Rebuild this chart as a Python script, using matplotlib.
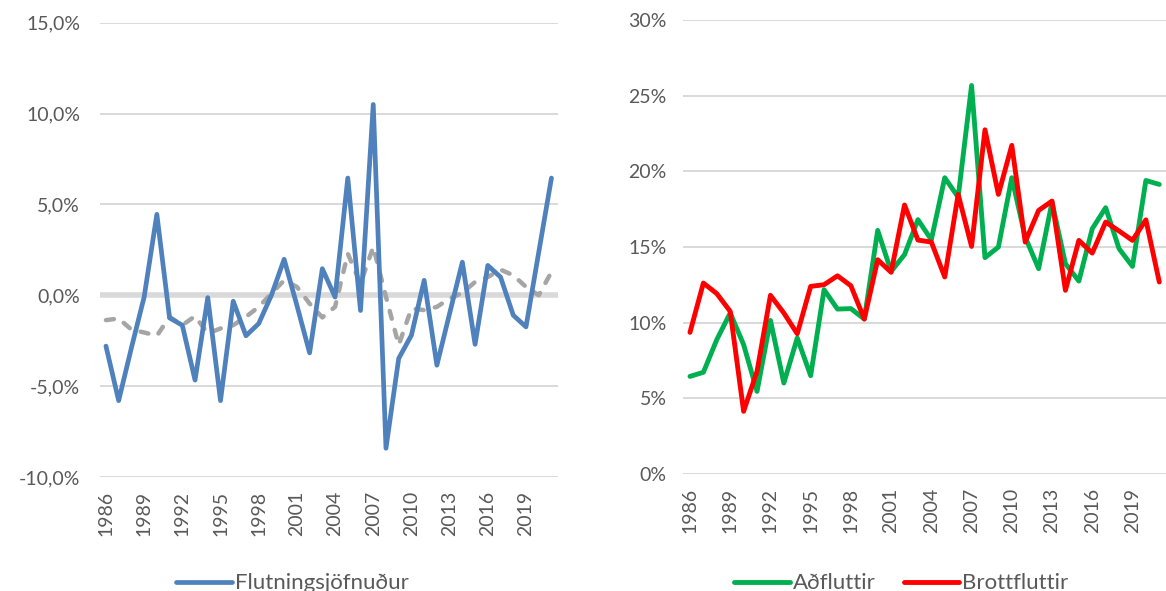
import numpy as np
import matplotlib.pyplot as plt
from matplotlib.ticker import FuncFormatter

plt.rcParams['font.family'] = ['Lato', 'DejaVu Sans']

years = list(range(1986, 2022))

# vinstri mynd: flutningsjöfnuður (%) og leitnilína
jofnudur = [-2.8, -5.8, -2.9, -0.1, 4.45, -1.25, -1.65, -4.67, -0.13, -5.8,
            -0.33, -2.23, -1.56, 0.0, 1.98, -0.55, -3.17, 1.46, -0.1, 6.45,
            -0.84, 10.5, -8.42, -3.48, -2.2, 0.82, -3.85, -1.0, 1.82, -2.7,
            1.64, 1.0, -1.1, -1.74, 2.36, 6.45]
leitni = [-1.37, -1.28, -1.89, -2.05, -2.23, -1.19, -1.65, -1.15, -2.1, -1.83,
          -1.65, -1.19, -0.64, 0.09, 0.82, 0.46, -0.46, -1.22, -0.64, 2.29,
          0.64, 2.66, -0.09, -2.74, -0.73, -0.82, -0.64, -0.18, 0.13, 0.73,
          1.0, 1.41, 1.1, 0.46, 0.0, 1.28]

# hægri mynd: aðfluttir og brottfluttir (%)
adfluttir = [6.45, 6.72, 8.88, 10.64, 8.55, 5.46, 10.15, 6.01, 8.99, 6.5,
             12.18, 10.9, 10.93, 10.24, 16.1, 13.39, 14.5, 16.81, 15.48, 19.58,
             18.3, 25.68, 14.3, 15.0, 19.58, 15.66, 13.57, 17.97, 13.9, 12.75,
             16.21, 17.6, 14.89, 13.72, 19.4, 19.14]
brottfluttir = [9.36, 12.62, 11.92, 10.75, 4.14, 6.78, 11.81, 10.64, 9.27, 12.4,
                12.51, 13.1, 12.44, 10.24, 14.16, 13.33, 17.78, 15.46, 15.33, 13.02,
                18.48, 15.04, 22.75, 18.48, 21.72, 15.33, 17.42, 18.04, 12.14, 15.44,
                14.6, 16.65, 16.06, 15.44, 16.8, 12.69]

txt = '#595959'
grid = '#d9d9d9'
x = np.arange(len(years))

fig = plt.figure(figsize=(11.66, 5.91), dpi=100)
ax1 = fig.add_axes([0.0854, 0.193, 0.393, 0.7686])
ax2 = fig.add_axes([0.586, 0.198, 0.414, 0.768])


def style(ax, ticks, fmt, ypad):
    for s in ax.spines.values():
        s.set_visible(False)
    ax.set_xlim(-0.5, len(years) - 0.5)
    ax.set_yticks(ticks)
    ax.yaxis.set_major_formatter(FuncFormatter(fmt))
    ax.set_ylim(ticks[0], ticks[-1])
    for t in ticks:
        ax.axhline(t, color=grid, lw=1.4, zorder=0)
    ax.set_xticks(x[::3])
    ax.set_xticklabels([str(y) for y in years[::3]], rotation=90)
    ax.tick_params(axis='both', length=0, labelsize=14, labelcolor=txt)
    ax.tick_params(axis='y', pad=ypad)
    ax.tick_params(axis='x', pad=10)


style(ax1, [-10, -5, 0, 5, 10, 15],
      lambda v, p: f"{v:.1f}%".replace('.', ','), 14)
ax1.axhline(0, color=grid, lw=4, zorder=1)
ax1.plot(x, leitni, color='#a5a5a5', lw=3.2, ls=(0, (1.8, 2.6)), zorder=2,
         dash_capstyle='round')
l1, = ax1.plot(x, jofnudur, color='#4f81bd', lw=3.4, zorder=3,
               solid_joinstyle='round', solid_capstyle='round')

style(ax2, [0, 5, 10, 15, 20, 25, 30], lambda v, p: f"{v:.0f}%", 12)
l2, = ax2.plot(x, adfluttir, color='#00b050', lw=3.5, zorder=3,
               solid_joinstyle='round', solid_capstyle='round')
l3, = ax2.plot(x, brottfluttir, color='#ff0000', lw=3.5, zorder=4,
               solid_joinstyle='round', solid_capstyle='round')

fig.legend([l1], ['Flutningsjöfnuður'], loc='center',
           bbox_to_anchor=(0.251, 0.013), frameon=False, fontsize=16,
           labelcolor=txt, handlelength=2.5, handletextpad=0.15)
fig.legend([l2, l3], ['Aðfluttir', 'Brottfluttir'], loc='center',
           bbox_to_anchor=(0.773, 0.013), frameon=False, fontsize=16,
           labelcolor=txt, ncol=2, handlelength=2.5, handletextpad=0.15,
           columnspacing=1.25)

fig.savefig('out.png', dpi=100)
